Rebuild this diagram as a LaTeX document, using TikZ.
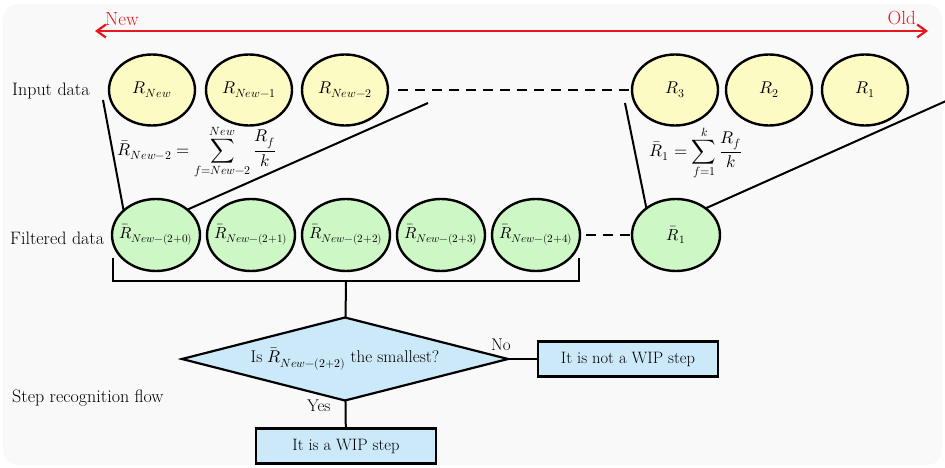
\documentclass[tikz,border=0pt]{standalone}
\usepackage{unicode-math}
\usepackage{xcolor}
\definecolor{rsBg}{RGB}{249,249,249}
\definecolor{rsYellow}{RGB}{253,251,196}
\definecolor{rsGreen}{RGB}{206,247,198}
\definecolor{rsBlue}{RGB}{204,233,250}
\definecolor{rsRed}{RGB}{232,22,30}
\usetikzlibrary{positioning,arrows.meta,shapes.geometric}

\begin{document}
\begin{tikzpicture}[x=1pt,y=-1pt,font=\fontsize{17}{20}\selectfont,
  inp/.style={ellipse,draw,line width=2.4pt,fill=rsYellow,minimum width=86pt,minimum height=71pt,inner xsep=-8pt,inner ysep=0pt,outer sep=0pt},
  fil/.style={ellipse,draw,line width=2.4pt,fill=rsGreen,minimum width=88pt,minimum height=72pt,inner xsep=-14pt,inner ysep=0pt,outer sep=0pt,font=\fontsize{16}{19}\selectfont},
  lbl/.style={anchor=west,inner sep=0pt,font=\fontsize{18}{21}\selectfont},
  bx/.style={draw,line width=2.2pt,fill=rsBlue,minimum width=180pt,minimum height=35pt,inner sep=0pt,outer sep=0pt,font=\fontsize{16.5}{19}\selectfont},
  dia/.style={diamond,draw,line width=2.2pt,fill=rsBlue,aspect=4,minimum width=326pt,minimum height=83pt,inner sep=0pt,outer sep=0pt},
  ln/.style={line width=2pt},
  dsh/.style={line width=2.4pt,dash pattern=on 10pt off 7pt}]
  \fill[white] (0,0) rectangle (945,468);
  \fill[rsBg,rounded corners=15pt] (3,4) rectangle (942,465);
  \useasboundingbox (0,0) rectangle (945,468);

  \coordinate (nw) at (95,31);
  \coordinate (od) at (928,31);
  \draw[rsRed,line width=2.2pt,{Straight Barb[length=9pt,width=13pt]}-{Straight Barb[length=9pt,width=13pt]}] (nw) -- (od);
  \node[lbl,text=rsRed,font=\fontsize{19}{21}\selectfont] (lnew) at (105,19) {New};
  \node[lbl,text=rsRed,font=\fontsize{19}{21}\selectfont,anchor=east] (lold) at (916,18) {Old};

  \node[lbl] (tin) at (12,91) {Input data};
  \node[lbl] (tfi) at (10,238) {Filtered data};
  \node[lbl] (tst) at (12,398) {Step recognition flow};

  \node[inp] (rn) at (152,90) {$R_{New}$};
  \node[inp,right=11pt of rn] (rn1) {$R_{New-1}$};
  \node[inp,right=10pt of rn1] (rn2) {$R_{New-2}$};
  \node[inp] (r3) at (675,90) {$R_3$};
  \node[inp,right=8pt of r3] (r2) {$R_2$};
  \node[inp,right=10pt of r2] (r1) {$R_1$};

  \node[fil] (f1) at (156,235) {$\bar{R}_{New-(2+0)}$};
  \node[fil,right=7pt of f1] (f2) {$\bar{R}_{New-(2+1)}$};
  \node[fil,right=7pt of f2] (f3) {$\bar{R}_{New-(2+2)}$};
  \node[fil,right=7pt of f3] (f4) {$\bar{R}_{New-(2+3)}$};
  \node[fil,right=7pt of f4] (f5) {$\bar{R}_{New-(2+4)}$};
  \node[fil] (fr1) at (676,235) {$\bar{R}_1$};

  \node (eq1) at (197,152) {$\displaystyle \bar{R}_{New-2} = \sum_{f=New-2}^{New}\frac{R_f}{k}$};
  \node (eq2) at (696,153) {$\displaystyle \bar{R}_1 = \sum_{f=1}^{k}\frac{R_f}{k}$};

  \draw[dsh,shorten <=10pt] (rn2) -- (r3);
  \draw[dsh,shorten <=6pt] (f5) -- (fr1);

  \coordinate (t1) at (103,100);
  \coordinate (t2) at (428,103);
  \coordinate (t3) at (625,103);
  \coordinate (t4) at (946,101);
  \draw[ln] (t1) -- (f1.143);
  \draw[ln] (t2) -- (f1.39);
  \draw[ln] (t3) -- (fr1.138);
  \draw[ln] (t4) -- (fr1.42);

  \coordinate (bl) at (113,258);
  \coordinate (br) at (579,258);
  \coordinate (hub) at (346,281);
  \draw[ln,line width=2.4pt] (bl) |- (hub) -| (br);

  \node[dia] (dec) at (345,359) {Is $\bar{R}_{New-(2+2)}$ the smallest?};
  \node[bx] (yes) at (346,446) {It is a WIP step};
  \node[bx] (no) at (628,359) {It is not a WIP step};

  \draw[ln] (hub) -- (dec);
  \draw[ln] (dec) -- node[pos=0.2,left=14pt,inner sep=0pt]{Yes} (yes);
  \draw[ln] (dec.east) -- node[pos=0,above=7pt,xshift=-7pt,inner sep=0pt]{No} (no);
\end{tikzpicture}
\end{document}
